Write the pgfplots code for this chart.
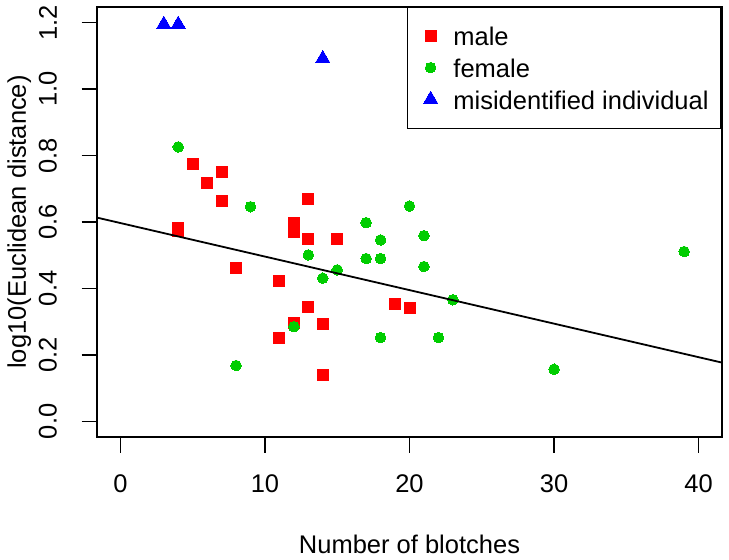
\documentclass[border=0pt]{standalone}
\usepackage{fontspec}
\setmainfont{Liberation Sans}
\usepackage{pgfplots}
\pgfplotsset{compat=1.18}
\definecolor{rred}{RGB}{255,0,0}
\definecolor{rgreen}{RGB}{0,205,0}
\definecolor{rblue}{RGB}{0,0,255}
\begin{document}
\fontsize{25.5bp}{30bp}\selectfont
\begin{tikzpicture}
\begin{axis}[
  at={(97.3bp,122.7bp)}, anchor=south west,
  scale only axis, width=624.4bp, height=430.6bp,
  xmin=-1.6, xmax=41.6, ymin=-0.048, ymax=1.248,
  clip marker paths=true,
  xtick={0,10,20,30,40}, xticklabels={0,10,20,30,40},
  ytick={0,0.2,0.4,0.6,0.8,1.0,1.2},
  yticklabels={0.0,0.2,0.4,0.6,0.8,1.0,1.2},
  xtick pos=bottom, ytick pos=left,
  tick align=outside, major tick length=15.6bp,
  tick style={line width=1.6bp, black},
  axis line style={line width=1.8bp},
  xticklabel style={inner sep=0pt, anchor=north},
  xticklabel shift=21.8bp,
  yticklabel style={inner sep=0pt, rotate=90, anchor=south},
  yticklabel shift=24.5bp,
  every axis x label/.style={at={(axis description cs:0.5,0)}, anchor=base, yshift=-115.7bp},
  every axis y label/.style={at={(axis description cs:0,0.5)}, xshift=-71.3bp, rotate=90, anchor=base},
  xlabel={Number of blotches},
  ylabel={log10(Euclidean distance)},
  legend cell align=left,
  legend style={at={(rel axis cs:1,1)}, anchor=north east, draw=black, line width=1.5bp,
    inner xsep=12.4bp, inner ysep=13bp, row sep=0pt, column sep=0pt,
    nodes={inner sep=0pt, text height=25.5bp, text depth=6.2bp, anchor=base west}},
  legend image code/.code={\draw[#1] plot coordinates {(0bp,10bp)}; \path (-10.2bp,0bp) (22bp,0bp);},
]
\addplot[only marks, mark=square*, mark size=5.5bp, color=rred, mark options={line width=0pt}] coordinates {
(4,0.583) (4,0.572) (5,0.775) (6,0.718) (7,0.751) (7,0.663) (7,-0.057) (8,0.463)
(11,0.423) (11,0.251) (12,0.596) (12,0.570) (12,0.297) (13,0.668) (13,0.548) (13,0.344)
(14,0.293) (14,0.140) (15,0.548) (19,0.354) (20,0.340)
};
\addlegendentry{male}
\addplot[only marks, mark=*, mark size=5.3bp, color=rgreen, mark options={line width=0pt}] coordinates {
(4,0.826) (8,0.168) (9,0.646) (12,0.285) (13,0.501) (14,0.431) (15,0.456) (17,0.598)
(17,0.490) (18,0.546) (18,0.490) (18,0.252) (20,0.648) (21,0.559) (21,0.466) (22,0.252)
(23,0.366) (30,0.157) (39,0.511)
};
\addlegendentry{female}
\addplot[only marks, mark=triangle*, mark size=8.3bp, color=rblue, mark options={line width=0pt}] coordinates {
(3,1.195) (4,1.195) (14,1.092)
};
\addlegendentry{misidentified individual}
\addplot[black, line width=1.8bp, forget plot] coordinates {(-1.6,0.613) (41.6,0.177)};
\end{axis}
\pgfresetboundingbox
\path[use as bounding box] (0,0) rectangle (729bp,560bp);
\end{tikzpicture}
\end{document}
